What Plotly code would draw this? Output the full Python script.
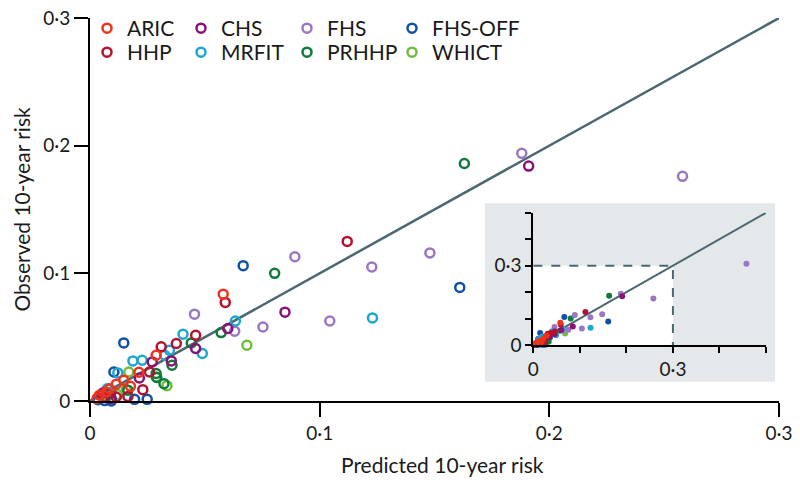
import plotly.graph_objects as go

# cohort calibration points: predicted (x) vs observed (y) 10-year risk
cohorts = ["ARIC", "HHP", "CHS", "MRFIT", "FHS", "PRHHP", "FHS-OFF", "WHICT"]

aric_x = [0.058, 0.0288, 0.0213, 0.0176, 0.0147, 0.0114, 0.0085, 0.0071, 0.0041, 0.0031]
aric_y = [0.0837, 0.0358, 0.0225, 0.0115, 0.0162, 0.0131, 0.0095, 0.0071, 0.0045, 0.0019]

hhp_x = [0.112, 0.0589, 0.046, 0.0376, 0.031, 0.0259, 0.023, 0.0165, 0.0114, 0.006]
hhp_y = [0.125, 0.0772, 0.0515, 0.045, 0.0424, 0.0227, 0.0089, 0.0035, 0.0031, 0.003]

chs_x = [0.191, 0.0849, 0.060, 0.046, 0.0354, 0.0271, 0.0215, 0.0092, 0.0056]
chs_y = [0.184, 0.0696, 0.0568, 0.0411, 0.0314, 0.0306, 0.018, 0.0019, 0.0063]

mrfit_x = [0.123, 0.0633, 0.0489, 0.0405, 0.0346, 0.0325, 0.0227, 0.0187, 0.0121, 0.0075]
mrfit_y = [0.0651, 0.0627, 0.0372, 0.0523, 0.0398, 0.0358, 0.0319, 0.0314, 0.022, 0.0095]

fhs_x = [0.458, 0.258, 0.188, 0.148, 0.1227, 0.1044, 0.0892, 0.0753, 0.063, 0.0455]
fhs_y = [0.307, 0.176, 0.194, 0.116, 0.105, 0.0627, 0.113, 0.058, 0.0547, 0.068]

prhhp_x = [0.163, 0.0804, 0.0571, 0.0441, 0.0357, 0.0291, 0.0322, 0.0288, 0.0165, 0.009]
prhhp_y = [0.186, 0.100, 0.0536, 0.0455, 0.028, 0.0184, 0.0136, 0.0215, 0.0085, 0.006]

fhsoff_x = [0.161, 0.0667, 0.0147, 0.0104, 0.0249, 0.0194, 0.0093, 0.0064, 0.0035]
fhsoff_y = [0.089, 0.106, 0.0455, 0.0227, 0.0013, 0.0013, 0.0, 0.0003, 0.001]

whict_x = [0.0683, 0.0335, 0.0169, 0.0158, 0.012, 0.0075, 0.0288]
whict_y = [0.0437, 0.012, 0.0227, 0.0089, 0.005, 0.004, 0.0188]

series = {
    "ARIC": (aric_x, aric_y),
    "HHP": (hhp_x, hhp_y),
    "CHS": (chs_x, chs_y),
    "MRFIT": (mrfit_x, mrfit_y),
    "FHS": (fhs_x, fhs_y),
    "PRHHP": (prhhp_x, prhhp_y),
    "FHS-OFF": (fhsoff_x, fhsoff_y),
    "WHICT": (whict_x, whict_y),
}

colors = {
    "ARIC": "#f0321c", "HHP": "#b3112d", "CHS": "#8a1277", "MRFIT": "#1ca6d2",
    "FHS": "#9b77c3", "PRHHP": "#0e7a3b", "FHS-OFF": "#0e51a5", "WHICT": "#6fbe3b",
}
# legend grid: column / row of each cohort (4 columns x 2 rows)
legend_col = {"ARIC": 0, "HHP": 0, "CHS": 1, "MRFIT": 1, "FHS": 2, "PRHHP": 2, "FHS-OFF": 3, "WHICT": 3}
legend_row = {"ARIC": 0, "HHP": 1, "CHS": 0, "MRFIT": 1, "FHS": 0, "PRHHP": 1, "FHS-OFF": 0, "WHICT": 1}

W, H = 800, 487
ML, MR, MT, MB = 90, 21, 18, 86
col_left_px = [87, 181, 287, 392]
row_top_px = [8, 32]

main_max = 0.3
inset_max = 0.5
cutoff = 0.3
main_ticks = [0, 0.1, 0.2, 0.3]
main_ticktext = ["0", "0·1", "0·2", "0·3"]
inset_ticks = [0, 0.1, 0.2, 0.3, 0.4, 0.5]
inset_ticktext = ["0", "", "", "0·3", "", ""]

line_col = "#4b6870"
FONT = "Lato, 'Open Sans', sans-serif"
TXT = "#1a1a1a"

fig = go.Figure()

# identity lines
fig.add_trace(go.Scatter(x=[0, main_max], y=[0, main_max], mode="lines",
                         line=dict(color=line_col, width=2.5), showlegend=False, hoverinfo="skip"))
fig.add_trace(go.Scatter(x=[0, inset_max], y=[0, inset_max], mode="lines", xaxis="x2", yaxis="y2",
                         line=dict(color=line_col, width=2), showlegend=False, hoverinfo="skip"))
fig.add_trace(go.Scatter(x=[0, cutoff, cutoff], y=[cutoff, cutoff, 0], mode="lines", xaxis="x2", yaxis="y2",
                         line=dict(color=line_col, width=2, dash="dash"), showlegend=False, hoverinfo="skip",
                         cliponaxis=False))

draw_order = ["WHICT", "PRHHP", "FHS-OFF", "FHS", "MRFIT", "CHS", "HHP", "ARIC"]

legend_layout = {}
for name in draw_order:
    xs, ys = series[name]
    mx = [a for a, b in zip(xs, ys) if a <= main_max]
    my = [b for a, b in zip(xs, ys) if a <= main_max]
    k = cohorts.index(name) + 1
    lid = "legend" if k == 1 else f"legend{k}"
    legend_layout[lid] = dict(
        orientation="v", xref="container", yref="container", yanchor="top", xanchor="left",
        x=col_left_px[legend_col[name]] / W, y=1 - row_top_px[legend_row[name]] / H,
        bgcolor="rgba(0,0,0,0)", font=dict(family=FONT, size=21, color=TXT),
    )
    fig.add_trace(go.Scatter(
        x=mx, y=my, mode="markers", name=name, legend=lid, cliponaxis=False,
        marker=dict(symbol="circle-open", size=9, color=colors[name], line=dict(width=2.5, color=colors[name])),
    ))
    fig.add_trace(go.Scatter(
        x=xs, y=ys, mode="markers", name=name, xaxis="x2", yaxis="y2", showlegend=False,
        marker=dict(symbol="circle", size=6, color=colors[name]), cliponaxis=False,
    ))

axis_common = dict(showline=True, linecolor="black", showgrid=False, zeroline=False,
                   ticks="outside", tickcolor="black", ticklabeloverflow="allow")

fig.update_layout(
    width=W, height=H,
    margin=dict(l=ML, r=MR, t=MT, b=MB, autoexpand=False),
    paper_bgcolor="white", plot_bgcolor="rgba(0,0,0,0)",
    font=dict(family=FONT, color=TXT),
    xaxis=dict(range=[0, main_max], tickvals=main_ticks, ticktext=main_ticktext,
               linewidth=2, ticklen=14, tickwidth=2, tickfont=dict(size=19),
               domain=[0, 1], **axis_common),
    yaxis=dict(range=[0, main_max], tickvals=main_ticks, ticktext=main_ticktext,
               linewidth=2, ticklen=14, tickwidth=2, tickfont=dict(size=19),
               domain=[0, 1], **axis_common),
    xaxis2=dict(range=[0, inset_max], tickvals=inset_ticks, ticktext=inset_ticktext, anchor="y2",
                domain=[0.6434, 0.9811], linewidth=2, ticklen=6, tickwidth=2, tickfont=dict(size=19),
                **axis_common),
    yaxis2=dict(range=[0, inset_max], tickvals=inset_ticks, ticktext=inset_ticktext, anchor="x2",
                domain=[0.1462, 0.4914], linewidth=2, ticklen=6, tickwidth=2, tickfont=dict(size=19),
                **axis_common),
    shapes=[
        dict(type="rect", xref="paper", yref="paper", x0=0.5733, x1=0.9942, y0=0.0504, y1=0.5162,
             fillcolor="#e5e8eb", line=dict(width=0), layer="below"),
        dict(type="rect", xref="x2", yref="y2", x0=0, x1=cutoff, y0=0, y1=cutoff,
             fillcolor="white", line=dict(width=0), layer="below"),
    ],
    annotations=[
        dict(text="Predicted 10-year risk", xref="paper", yref="paper", x=0.5109, y=-0.1671,
             xanchor="center", yanchor="middle", showarrow=False, font=dict(size=21, color=TXT)),
        dict(text="Observed 10-year risk", xref="paper", yref="paper", x=-0.1001, y=0.5,
             xanchor="center", yanchor="middle", textangle=-90, showarrow=False,
             font=dict(size=21, color=TXT)),
    ],
    **legend_layout,
)

# drop the browser's default 8px body margin so the figure sits at the window origin
fig.write_html("out.html", config={"displayModeBar": False},
               post_script="document.body.style.margin = '0';")
